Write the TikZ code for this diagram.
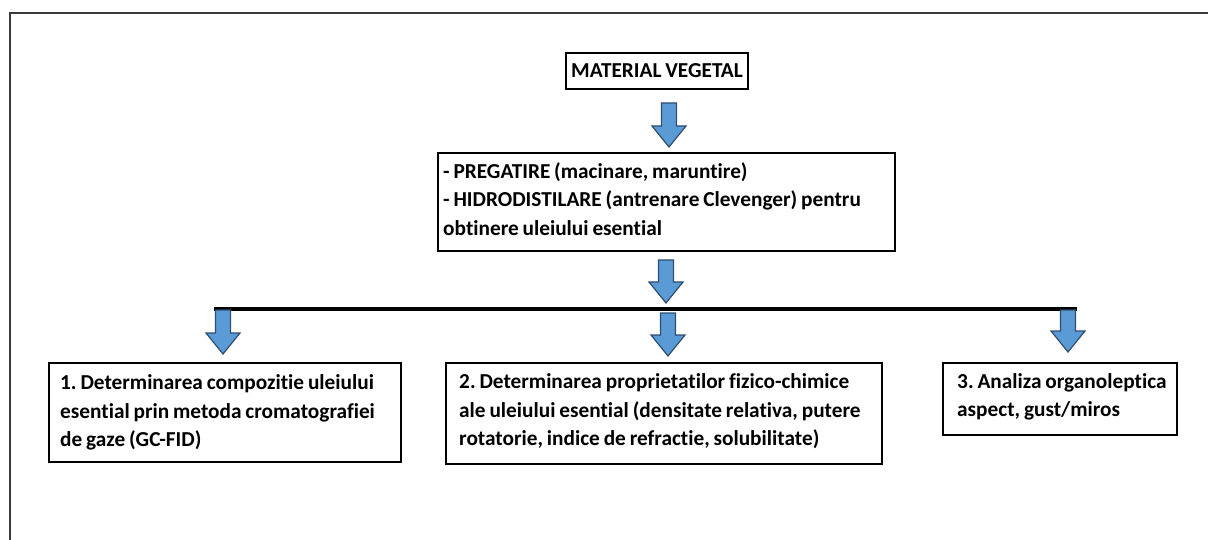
\documentclass[tikz,border=0pt]{standalone}
\usepackage{fontspec}
\setmainfont{Carlito}[Ligatures=NoCommon,WordSpace=0.8]
\frenchspacing
\definecolor{arrowfill}{HTML}{5B9BD5}
\definecolor{arrowdraw}{HTML}{2F4E70}
\definecolor{framegray}{HTML}{3A3A3A}
\begin{document}
\begin{tikzpicture}[x=1pt,y=-1pt,line join=miter]
\useasboundingbox (0,0) rectangle (1208,540);
\tikzset{
  box/.style={draw=black,line width=1.8pt,inner sep=0pt,anchor=north west},
  txt/.style={inner sep=0pt,anchor=west,align=left,
    font=\fontsize{21.3}{28.5}\selectfont\bfseries},
  barrow/.style={fill=arrowfill,draw=arrowdraw,line width=1.2pt},
  frame/.style={draw=framegray,line width=1.5pt},
  bar/.style={draw=black,line width=3.2pt}
}
\newcommand\blockarrow[3]{%
  \draw[barrow] (#1-7.5,#2) -- (#1+7.5,#2) -- (#1+7.5,#3-21) -- (#1+17,#3-21) -- (#1,#3)
     -- (#1-17,#3-21) -- (#1-7.5,#3-21) -- cycle;}
% frame
\coordinate (fl) at (10,540);
\coordinate (fc) at (10,13);
\coordinate (fr) at (1208,13);
\draw[frame] (fl) -- (fc) -- (fr);
% boxes
\node[box,anchor=center,minimum width=182,minimum height=36] (mat) at (657,71) {};
\node[txt,anchor=center] (matt) at (mat.center) {MATERIAL VEGETAL};
\node[box,minimum width=457,minimum height=98] (prep) at (437,152) {};
\node[txt] (prept) at ([xshift=6pt,yshift=3pt]prep.west)
  {- PREGATIRE (macinare, maruntire)\\- HIDRODISTILARE (antrenare Clevenger) pentru\\obtinere uleiului esential};
\node[box,minimum width=352,minimum height=99] (b1) at (48,362) {};
\node[txt] (b1t) at ([xshift=12pt,yshift=0pt]b1.west)
  {1. Determinarea compozitie uleiului\\esential prin metoda cromatografiei\\de gaze (GC-FID)};
\node[box,minimum width=436,minimum height=101] (b2) at (445,362) {};
\node[txt] (b2t) at ([xshift=14pt,yshift=2pt]b2.west)
  {2. Determinarea proprietatilor fizico-chimice\\ale uleiului esential (densitate relativa, putere\\rotatorie, indice de refractie, solubilitate)};
\node[box,minimum width=234,minimum height=72] (b3) at (942,362) {};
\node[txt] (b3t) at ([xshift=15pt,yshift=2pt]b3.west)
  {3. Analiza organoleptica\\aspect, gust/miros};
% distribution bar
\coordinate (barL) at (214,309);
\coordinate (barR) at (1077,309);
\draw[bar] (barL) -- (barR);
% block arrows
\blockarrow{669}{103}{147}
\blockarrow{666}{260}{303}
\blockarrow{223}{310}{354}
\blockarrow{668}{313}{356}
\blockarrow{1068}{310}{352}
\end{tikzpicture}
\end{document}
